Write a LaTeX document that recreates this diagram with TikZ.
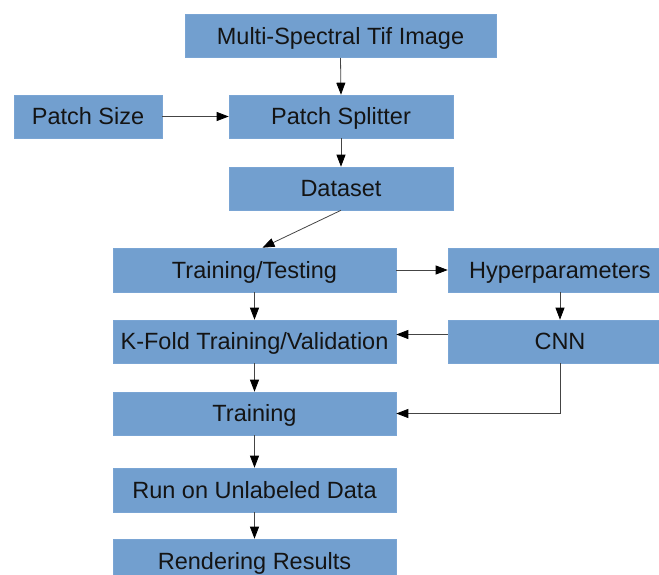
\documentclass[tikz,border=0pt]{standalone}
\usepackage{fontspec}
\setmainfont{Liberation Sans}
\usetikzlibrary{arrows.meta}
\definecolor{boxblue}{HTML}{729FCF}
\definecolor{boxedge}{HTML}{7AA5D4}
\definecolor{linegray}{HTML}{444444}
\tikzset{
  blk/.style={rectangle, fill=boxblue, draw=boxedge, line width=0.6pt,
    inner sep=0pt, text=black!92, font=\fontsize{23.5}{27}\selectfont,
    text height=16.8pt, text depth=0pt},
  conn/.style={draw=linegray, line width=0.8pt,
    -{Triangle[length=12pt,width=9pt,fill=black,color=black]}}
}
\begin{document}
\begin{tikzpicture}[x=1pt,y=-1pt]
\useasboundingbox (0,0) rectangle (659,575);
\clip (0,0) rectangle (659,575);
\node[blk, minimum width=311pt, minimum height=43pt] (img) at (340.5,36) {Multi-Spectral Tif Image};
\node[blk, minimum width=224pt, minimum height=43pt] (ps) at (341,116.5) {Patch Splitter};
\node[blk, minimum width=148pt, minimum height=43pt] (psize) at (88,116.5) {Patch Size};
\node[blk, minimum width=224pt, minimum height=43pt] (ds) at (341,188.5) {Dataset};
\node[blk, minimum width=283pt, minimum height=44pt] (tt) at (254.5,270) {Training/Testing};
\node[blk, minimum width=283pt, minimum height=43pt] (kf) at (254.5,341.5) {K-Fold Training/Validation};
\node[blk, minimum width=283pt, minimum height=43pt] (tr) at (254.5,413.5) {Training};
\node[blk, minimum width=283pt, minimum height=44pt] (run) at (254.5,490) {Run on Unlabeled Data};
\node[blk, minimum width=283pt, minimum height=44pt] (ren) at (254.5,561) {Rendering Results};
\node[blk, minimum width=224pt, minimum height=44pt] (hp) at (560,270) {Hyperparameters};
\node[blk, minimum width=224pt, minimum height=43pt] (cnn) at (560,341.5) {CNN};

\draw[conn] (img.south) -- (ps.north);
\draw[conn] (psize.east) -- (ps.west);
\draw[conn] (ps.south) -- (ds.north);
\draw[conn] (ds.south) -- ([xshift=8pt]tt.north);
\draw[conn] (tt.east) -- (hp.west);
\draw[conn] (tt.south) -- (kf.north);
\draw[conn] (hp.south) -- (cnn.north);
\draw[conn] ([yshift=7pt]cnn.west) -- ([yshift=7pt]kf.east);
\draw[conn] (kf.south) -- (tr.north);
\draw[conn] (cnn.south) |- (tr.east);
\draw[conn] (tr.south) -- (run.north);
\draw[conn] (run.south) -- (ren.north);
\end{tikzpicture}
\end{document}
